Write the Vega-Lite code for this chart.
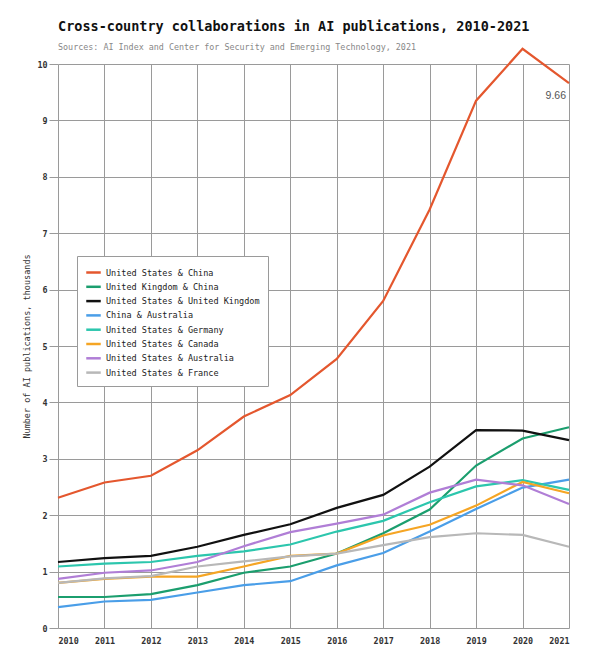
{
  "$schema": "https://vega.github.io/schema/vega-lite/v6.json",
  "width": 511,
  "height": 564,
  "autosize": {"type": "none"},
  "padding": {"left": 58, "top": 64, "right": 27, "bottom": 35},
  "background": "white",
  "title": {
    "text": "Cross-country collaborations in AI publications, 2010-2021",
    "subtitle": "Sources: AI Index and Center for Security and Emerging Technology, 2021",
    "anchor": "start",
    "frame": "group",
    "font": "DejaVu Sans Mono",
    "fontSize": 13.5,
    "fontWeight": "bold",
    "color": "#111111",
    "subtitleFont": "DejaVu Sans Mono",
    "subtitleFontSize": 8.4,
    "subtitleColor": "#888888",
    "subtitlePadding": 9,
    "offset": -7
  },
  "datasets": {
    "series": [
      {"pair": "United States & China", "year": 2010, "value": 2.31},
      {"pair": "United States & China", "year": 2011, "value": 2.58},
      {"pair": "United States & China", "year": 2012, "value": 2.7},
      {"pair": "United States & China", "year": 2013, "value": 3.15},
      {"pair": "United States & China", "year": 2014, "value": 3.75},
      {"pair": "United States & China", "year": 2015, "value": 4.13},
      {"pair": "United States & China", "year": 2016, "value": 4.77},
      {"pair": "United States & China", "year": 2017, "value": 5.8},
      {"pair": "United States & China", "year": 2018, "value": 7.42},
      {"pair": "United States & China", "year": 2019, "value": 9.35},
      {"pair": "United States & China", "year": 2020, "value": 10.27},
      {"pair": "United States & China", "year": 2021, "value": 9.66},
      {"pair": "United Kingdom & China", "year": 2010, "value": 0.55},
      {"pair": "United Kingdom & China", "year": 2011, "value": 0.55},
      {"pair": "United Kingdom & China", "year": 2012, "value": 0.6},
      {"pair": "United Kingdom & China", "year": 2013, "value": 0.76},
      {"pair": "United Kingdom & China", "year": 2014, "value": 0.98},
      {"pair": "United Kingdom & China", "year": 2015, "value": 1.09},
      {"pair": "United Kingdom & China", "year": 2016, "value": 1.32},
      {"pair": "United Kingdom & China", "year": 2017, "value": 1.68},
      {"pair": "United Kingdom & China", "year": 2018, "value": 2.1},
      {"pair": "United Kingdom & China", "year": 2019, "value": 2.88},
      {"pair": "United Kingdom & China", "year": 2020, "value": 3.36},
      {"pair": "United Kingdom & China", "year": 2021, "value": 3.56},
      {"pair": "United States & United Kingdom", "year": 2010, "value": 1.17},
      {"pair": "United States & United Kingdom", "year": 2011, "value": 1.24},
      {"pair": "United States & United Kingdom", "year": 2012, "value": 1.28},
      {"pair": "United States & United Kingdom", "year": 2013, "value": 1.44},
      {"pair": "United States & United Kingdom", "year": 2014, "value": 1.65},
      {"pair": "United States & United Kingdom", "year": 2015, "value": 1.84},
      {"pair": "United States & United Kingdom", "year": 2016, "value": 2.13},
      {"pair": "United States & United Kingdom", "year": 2017, "value": 2.36},
      {"pair": "United States & United Kingdom", "year": 2018, "value": 2.86},
      {"pair": "United States & United Kingdom", "year": 2019, "value": 3.51},
      {"pair": "United States & United Kingdom", "year": 2020, "value": 3.5},
      {"pair": "United States & United Kingdom", "year": 2021, "value": 3.33},
      {"pair": "China & Australia", "year": 2010, "value": 0.37},
      {"pair": "China & Australia", "year": 2011, "value": 0.47},
      {"pair": "China & Australia", "year": 2012, "value": 0.5},
      {"pair": "China & Australia", "year": 2013, "value": 0.63},
      {"pair": "China & Australia", "year": 2014, "value": 0.76},
      {"pair": "China & Australia", "year": 2015, "value": 0.83},
      {"pair": "China & Australia", "year": 2016, "value": 1.11},
      {"pair": "China & Australia", "year": 2017, "value": 1.33},
      {"pair": "China & Australia", "year": 2018, "value": 1.71},
      {"pair": "China & Australia", "year": 2019, "value": 2.11},
      {"pair": "China & Australia", "year": 2020, "value": 2.49},
      {"pair": "China & Australia", "year": 2021, "value": 2.63},
      {"pair": "United States & Germany", "year": 2010, "value": 1.09},
      {"pair": "United States & Germany", "year": 2011, "value": 1.14},
      {"pair": "United States & Germany", "year": 2012, "value": 1.17},
      {"pair": "United States & Germany", "year": 2013, "value": 1.28},
      {"pair": "United States & Germany", "year": 2014, "value": 1.36},
      {"pair": "United States & Germany", "year": 2015, "value": 1.48},
      {"pair": "United States & Germany", "year": 2016, "value": 1.71},
      {"pair": "United States & Germany", "year": 2017, "value": 1.9},
      {"pair": "United States & Germany", "year": 2018, "value": 2.23},
      {"pair": "United States & Germany", "year": 2019, "value": 2.51},
      {"pair": "United States & Germany", "year": 2020, "value": 2.62},
      {"pair": "United States & Germany", "year": 2021, "value": 2.45},
      {"pair": "United States & Canada", "year": 2010, "value": 0.8},
      {"pair": "United States & Canada", "year": 2011, "value": 0.87},
      {"pair": "United States & Canada", "year": 2012, "value": 0.91},
      {"pair": "United States & Canada", "year": 2013, "value": 0.91},
      {"pair": "United States & Canada", "year": 2014, "value": 1.09},
      {"pair": "United States & Canada", "year": 2015, "value": 1.28},
      {"pair": "United States & Canada", "year": 2016, "value": 1.32},
      {"pair": "United States & Canada", "year": 2017, "value": 1.64},
      {"pair": "United States & Canada", "year": 2018, "value": 1.83},
      {"pair": "United States & Canada", "year": 2019, "value": 2.17},
      {"pair": "United States & Canada", "year": 2020, "value": 2.59},
      {"pair": "United States & Canada", "year": 2021, "value": 2.39},
      {"pair": "United States & Australia", "year": 2010, "value": 0.87},
      {"pair": "United States & Australia", "year": 2011, "value": 0.98},
      {"pair": "United States & Australia", "year": 2012, "value": 1.02},
      {"pair": "United States & Australia", "year": 2013, "value": 1.17},
      {"pair": "United States & Australia", "year": 2014, "value": 1.45},
      {"pair": "United States & Australia", "year": 2015, "value": 1.7},
      {"pair": "United States & Australia", "year": 2016, "value": 1.85},
      {"pair": "United States & Australia", "year": 2017, "value": 2.01},
      {"pair": "United States & Australia", "year": 2018, "value": 2.4},
      {"pair": "United States & Australia", "year": 2019, "value": 2.63},
      {"pair": "United States & Australia", "year": 2020, "value": 2.53},
      {"pair": "United States & Australia", "year": 2021, "value": 2.2},
      {"pair": "United States & France", "year": 2010, "value": 0.8},
      {"pair": "United States & France", "year": 2011, "value": 0.88},
      {"pair": "United States & France", "year": 2012, "value": 0.92},
      {"pair": "United States & France", "year": 2013, "value": 1.09},
      {"pair": "United States & France", "year": 2014, "value": 1.18},
      {"pair": "United States & France", "year": 2015, "value": 1.27},
      {"pair": "United States & France", "year": 2016, "value": 1.32},
      {"pair": "United States & France", "year": 2017, "value": 1.47},
      {"pair": "United States & France", "year": 2018, "value": 1.61},
      {"pair": "United States & France", "year": 2019, "value": 1.68},
      {"pair": "United States & France", "year": 2020, "value": 1.65},
      {"pair": "United States & France", "year": 2021, "value": 1.44}
    ],
    "notes": [
      {"year": 2021, "value": 9.66, "label": "9.66"}
    ]
  },
  "encoding": {
    "x": {
      "field": "year",
      "type": "quantitative",
      "scale": {"domain": [2010, 2021], "nice": false, "zero": false},
      "axis": {
        "title": null,
        "values": [2010, 2011, 2012, 2013, 2014, 2015, 2016, 2017, 2018, 2019, 2020, 2021],
        "format": "d",
        "grid": true,
        "gridColor": "#9a9a9a",
        "gridWidth": 1,
        "domain": false,
        "ticks": false,
        "labelPadding": 8,
        "labelFont": "DejaVu Sans Mono",
        "labelFontSize": 8.4,
        "labelFontWeight": "bold",
        "labelColor": "#333333"
      }
    },
    "y": {
      "field": "value",
      "type": "quantitative",
      "scale": {"domain": [0, 10], "nice": false},
      "axis": {
        "title": "Number of AI publications, thousands",
        "titleFont": "DejaVu Sans Mono",
        "titleFontSize": 8.5,
        "titleFontWeight": "normal",
        "titleColor": "#333333",
        "titlePadding": 5,
        "values": [0, 1, 2, 3, 4, 5, 6, 7, 8, 9, 10],
        "grid": true,
        "gridColor": "#9a9a9a",
        "gridWidth": 1,
        "domain": false,
        "ticks": true,
        "tickSize": 9,
        "tickColor": "#9a9a9a",
        "labelPadding": 2,
        "labelFont": "DejaVu Sans Mono",
        "labelFontSize": 8.4,
        "labelFontWeight": "bold",
        "labelColor": "#333333"
      }
    }
  },
  "layer": [
    {
      "data": {"name": "series"},
      "mark": {"type": "line", "strokeWidth": 2.2},
      "encoding": {
        "color": {
          "field": "pair",
          "type": "nominal",
          "sort": null,
          "scale": {
            "domain": [
              "United States & China",
              "United Kingdom & China",
              "United States & United Kingdom",
              "China & Australia",
              "United States & Germany",
              "United States & Canada",
              "United States & Australia",
              "United States & France"
            ],
            "range": ["#e4572e", "#1b9e6e", "#111111", "#4a9ee8", "#2cc6ad", "#f5a524", "#b07ed6", "#b8b8b8"]
          },
          "legend": {
            "title": null,
            "orient": "none",
            "legendX": 19,
            "legendY": 192,
            "symbolType": "stroke",
            "symbolSize": 210,
            "symbolStrokeWidth": 2.5,
            "labelFont": "DejaVu Sans Mono",
            "labelFontSize": 8.5,
            "labelColor": "#222222",
            "labelOffset": 4,
            "rowPadding": 0.3,
            "padding": 8,
            "fillColor": "white",
            "strokeColor": "#9a9a9a",
            "labelLimit": 300
          }
        }
      }
    },
    {
      "data": {"name": "notes"},
      "mark": {
        "type": "text",
        "align": "right",
        "baseline": "middle",
        "dx": -3,
        "dy": 13,
        "font": "Liberation Sans",
        "fontSize": 10.5,
        "color": "#555555"
      },
      "encoding": {
        "text": {"field": "label"}
      }
    }
  ],
  "config": {
    "view": {"stroke": null}
  }
}
